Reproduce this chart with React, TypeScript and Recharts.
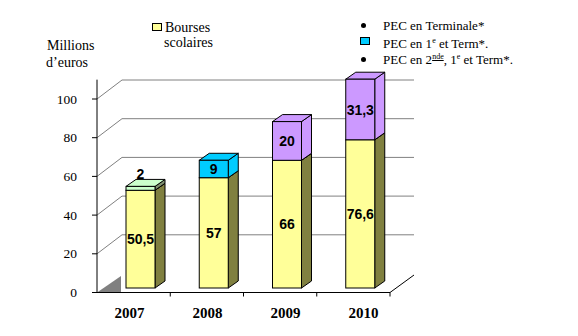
import React from "react";
import { BarChart, Bar, XAxis, YAxis, CartesianGrid, LabelList } from "recharts";

const years = ["2007", "2008", "2009", "2010"];
const bourses = [50.5, 57, 66, 76.6];
const pecTerminale = [2, null, null, null];
const pec1Term = [null, 9, null, null];
const pec2nde = [null, null, 20, 31.3];
const yTicks = [0, 20, 40, 60, 80, 100];

const data = years.map((year, i) => ({
  year,
  bourses: bourses[i],
  pecTerminale: pecTerminale[i],
  pec1Term: pec1Term[i],
  pec2nde: pec2nde[i],
}));

const W = 578;
const H = 336;
const X_AXIS_H = 30;
const MARGIN = { top: 79.65, right: 188, bottom: 13.5, left: 0 };
const PLOT_BOTTOM = H - MARGIN.bottom - X_AXIS_H;

// fake 3D: back wall, bar placement and bar depth
const WALL_DX = 25;
const WALL_DY = -19;
const BAR_SHIFT_X = 7;
const BAR_SHIFT_Y = -4.5;
const DEPTH_X = 10;
const DEPTH_Y = -7;
const X_TICK_SIZE = 4;
const X_TICK_MARGIN = 2;
const LABEL_DX = 3;
const LABEL_SPREAD = 4.8;

const SERIF = "'Liberation Serif', 'Times New Roman', serif";
const SANS = "'Liberation Sans', Arial, sans-serif";

const fmt = (v: number) => String(v).replace(".", ",");

function Prism(props: any) {
  const { x, y, width, height, front, side, top } = props;
  if (!height || height <= 0.5) return null;
  const fx = x + BAR_SHIFT_X;
  const fy = y + BAR_SHIFT_Y;
  const rx = fx + width;
  const by = fy + height;
  return (
    <g stroke="#000" strokeWidth={1}>
      <polygon
        points={`${rx},${fy} ${rx + DEPTH_X},${fy + DEPTH_Y} ${rx + DEPTH_X},${by + DEPTH_Y} ${rx},${by}`}
        fill={side}
      />
      <polygon
        points={`${fx},${fy} ${fx + DEPTH_X},${fy + DEPTH_Y} ${rx + DEPTH_X},${fy + DEPTH_Y} ${rx},${fy}`}
        fill={top}
      />
      <rect x={fx} y={fy} width={width} height={height} fill={front} />
    </g>
  );
}

const valueLabel = (above: boolean) => (p: any) => {
  const vb = p.viewBox ?? p;
  const { x, y, width, height } = vb;
  const v = p.value;
  if (v == null || v === 0) return null;
  const cx = x + BAR_SHIFT_X + width / 2;
  const cy = above ? y + BAR_SHIFT_Y - 12 : y + BAR_SHIFT_Y + height / 2;
  return (
    <text
      x={cx}
      y={cy}
      dy="0.36em"
      textAnchor="middle"
      style={{ fontFamily: SANS, fontWeight: "bold", fontSize: 14 }}
      fill="#000"
    >
      {fmt(v)}
    </text>
  );
};

function WallLine(p: any) {
  const { x1, y1, x2 } = p;
  if (Math.abs(y1 - PLOT_BOTTOM) < 1) {
    return (
      <g>
        <polygon points={`${x1},${y1} ${x1 + 24},${y1 - 16.5} ${x1 + 24},${y1}`} fill="#808080" />
        <line x1={x2} y1={y1} x2={x2 + 24} y2={y1 - 17.5} stroke="#000" />
      </g>
    );
  }
  return (
    <polyline
      points={`${x1},${y1} ${x1 + WALL_DX},${y1 + WALL_DY} ${x2 + WALL_DX - 1},${y1 + WALL_DY}`}
      fill="none"
      stroke="#808080"
      strokeWidth={1}
    />
  );
}

function YearTick(props: any) {
  const { x, y, payload, index, visibleTicksCount } = props;
  const half = payload?.offset ?? 36.6;
  const axisY = y - X_TICK_SIZE - X_TICK_MARGIN;
  const mid = ((visibleTicksCount ?? 4) - 1) / 2;
  const lx = x + LABEL_DX + (index - mid) * LABEL_SPREAD;
  return (
    <g>
      {index > 0 && (
        <line x1={x - half} y1={axisY} x2={x - half} y2={axisY + X_TICK_SIZE} stroke="#000" />
      )}
      {index === (visibleTicksCount ?? 4) - 1 && (
        <line x1={x + half} y1={axisY} x2={x + half} y2={axisY + X_TICK_SIZE} stroke="#000" />
      )}
      <text
        x={lx}
        y={y}
        dy={19}
        textAnchor="middle"
        style={{ fontFamily: SERIF, fontWeight: "bold", fontSize: 15 }}
        fill="#000"
      >
        {payload.value}
      </text>
    </g>
  );
}

function ValueTick(props: any) {
  const { x, y, payload } = props;
  return (
    <text
      x={x}
      y={y}
      dy={4.5}
      textAnchor="end"
      style={{ fontFamily: SERIF, fontSize: 13.5 }}
      fill="#000"
    >
      {payload.value}
    </text>
  );
}

const textStyle: React.CSSProperties = {
  position: "absolute",
  fontFamily: SERIF,
  fontSize: 14,
  lineHeight: "15px",
  color: "#000",
  whiteSpace: "nowrap",
};

const supStyle: React.CSSProperties = { fontSize: 8, verticalAlign: "5px", lineHeight: 0 };

function Bullet({ cx, cy }: { cx: number; cy: number }) {
  return (
    <div
      style={{
        position: "absolute",
        left: cx - 2.5,
        top: cy - 2.5,
        width: 5,
        height: 5,
        borderRadius: "50%",
        background: "#000",
      }}
    />
  );
}

export default function App() {
  return (
    <div
      style={{
        position: "absolute",
        left: 0,
        top: 0,
        width: W,
        height: H,
        background: "#fff",
        overflow: "hidden",
      }}
    >
      <BarChart width={W} height={H} data={data} margin={MARGIN}>
        <CartesianGrid vertical={false} horizontal={WallLine} syncWithTicks />
        <XAxis
          dataKey="year"
          height={X_AXIS_H}
          axisLine={{ stroke: "#000" }}
          tickLine={false}
          tickSize={X_TICK_SIZE}
          tickMargin={X_TICK_MARGIN}
          tick={YearTick}
          interval={0}
        />
        <YAxis
          width={97}
          domain={[0, 110]}
          ticks={yTicks}
          interval={0}
          axisLine={{ stroke: "#000" }}
          tickLine={{ stroke: "#000" }}
          tickSize={5}
          tickMargin={15}
          tick={ValueTick}
        />
        <Bar
          dataKey="bourses"
          stackId="a"
          barSize={29}
          isAnimationActive={false}
          shape={(p: any) => <Prism {...p} front="#FFFF99" top="#FFFF99" side="#808040" />}
        >
          <LabelList dataKey="bourses" content={valueLabel(false)} />
        </Bar>
        <Bar
          dataKey="pecTerminale"
          stackId="a"
          barSize={29}
          isAnimationActive={false}
          shape={(p: any) => <Prism {...p} front="#CCFFCC" top="#CCFFCC" side="#7F9070" />}
        >
          <LabelList dataKey="pecTerminale" content={valueLabel(true)} />
        </Bar>
        <Bar
          dataKey="pec1Term"
          stackId="a"
          barSize={29}
          isAnimationActive={false}
          shape={(p: any) => <Prism {...p} front="#00CCFF" top="#00CCFF" side="#00CCFF" />}
        >
          <LabelList dataKey="pec1Term" content={valueLabel(false)} />
        </Bar>
        <Bar
          dataKey="pec2nde"
          stackId="a"
          barSize={29}
          isAnimationActive={false}
          shape={(p: any) => <Prism {...p} front="#CC99FF" top="#CC99FF" side="#CC99FF" />}
        >
          <LabelList dataKey="pec2nde" content={valueLabel(false)} />
        </Bar>
      </BarChart>

      <div style={{ ...textStyle, left: 47, top: 37.5 }}>Millions</div>
      <div style={{ ...textStyle, left: 46, top: 54.5 }}>d’euros</div>

      <div
        style={{
          position: "absolute",
          left: 152,
          top: 23,
          width: 8,
          height: 6,
          border: "1px solid #000",
          background: "#FFFF99",
        }}
      />
      <div style={{ ...textStyle, left: 165, top: 19.5 }}>Bourses</div>
      <div style={{ ...textStyle, left: 164, top: 34.5 }}>scolaires</div>

      <Bullet cx={363} cy={25} />
      <div style={{ ...textStyle, fontSize: 13, left: 383, top: 17.5 }}>PEC en Terminale*</div>
      <div
        style={{
          position: "absolute",
          left: 360,
          top: 37,
          width: 8,
          height: 6,
          border: "1px solid #000",
          background: "#00CCFF",
        }}
      />
      <div style={{ ...textStyle, fontSize: 13, left: 383, top: 35.5 }}>
        PEC en 1<span style={supStyle}>e</span> et Term*.
      </div>
      <Bullet cx={363} cy={59} />
      <div style={{ ...textStyle, fontSize: 13, left: 383, top: 51.5 }}>
        PEC en 2<span style={{ ...supStyle, textDecoration: "underline" }}>nde</span>, 1
        <span style={supStyle}>e</span> et Term*.
      </div>
    </div>
  );
}
